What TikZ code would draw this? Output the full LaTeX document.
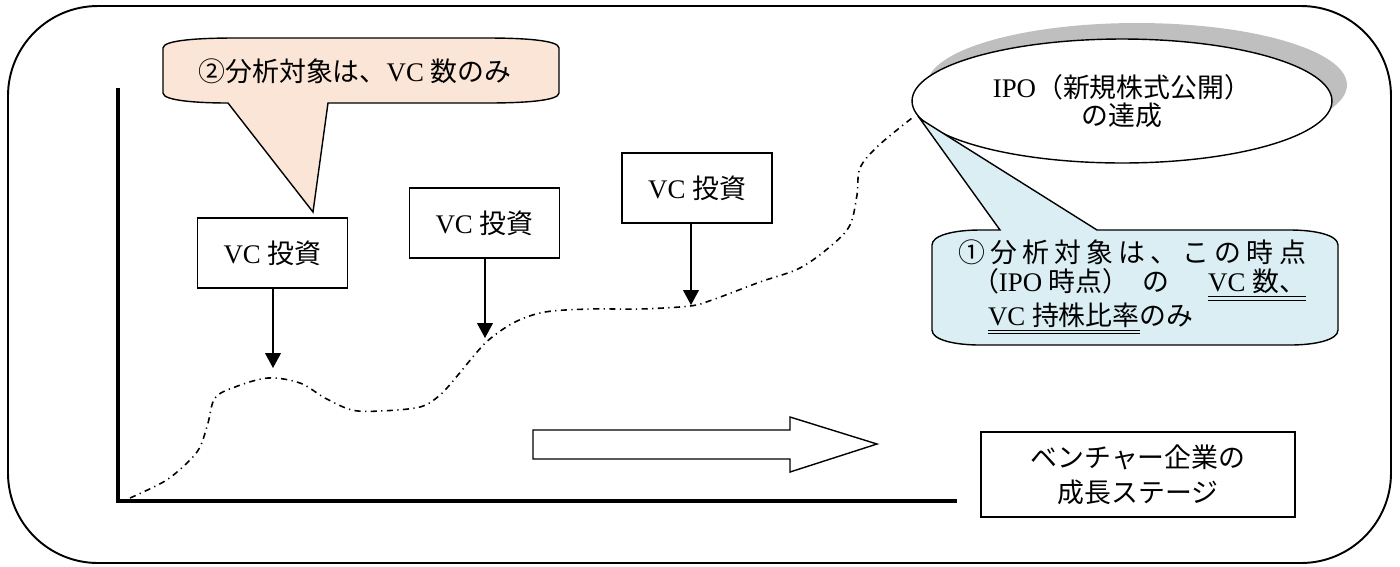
\documentclass[tikz,border=0pt]{standalone}
\usepackage{fontspec}
\setmainfont{Liberation Serif}
\newfontfamily\jp{Noto Sans CJK JP}
\usetikzlibrary{shapes.geometric,shadows,arrows.meta}
\newcommand{\dul}[1]{\underline{\underline{#1}}}
\definecolor{peach}{HTML}{FBE5D6}
\definecolor{paleblue}{HTML}{DAEEF3}
\tikzset{
  vcbox/.style={draw,line width=0.8pt,minimum width=3cm,minimum height=1.4cm},
  vcarrow/.style={line width=0.8pt,-{Triangle[length=8.5pt,width=9pt]}},
  growth/.style={line width=0.9pt,dash pattern=on 3.5pt off 2.5pt on 0.7pt off 2.5pt},
  callout/.style={draw,line width=0.8pt}
}

\begin{document}
\begin{tikzpicture}[x=0.02cm,y=-0.02cm,font=\fontsize{15.3}{19.8}\selectfont]
    \useasboundingbox (0,0) rectangle (1400,566);
    \draw[line width=1.1pt,rounded corners=1.8cm] (8,6) rectangle (1391,563);
    \draw[line width=1.8pt] (118,88) -- (118,501) -- (957,501);
    % growth path
    \draw[growth] plot[smooth,tension=0.55] coordinates {(130,498) (165,481) (188,462) (200,447) (208,423) (215,398) (235,387) (268,378) (300,383) (325,398) (352,410) (380,411) (420,407) (440,395) (458,375) (477,352) (491,338) (515,322) (545,312) (590,309) (640,309) (690,306) (712,300) (760,282) (800,268) (832,245) (850,225) (857,195) (860,168) (878,146) (912,118)};
    \coordinate (p1) at (273,368);
    \coordinate (p2) at (485,338);
    \coordinate (p3) at (691,305);
    \node[vcbox] (vc1) at (272.5,253) {VC {\jp 投資}};
    \node[vcbox] (vc2) at (484.5,223) {VC {\jp 投資}};
    \node[vcbox] (vc3) at (697,188) {VC {\jp 投資}};
    \draw[vcarrow] (vc1.south -| p1) -- (p1);
    \draw[vcarrow] (vc2.south -| p2) -- (p2);
    \draw[vcarrow] (vc3.south -| p3) -- (p3);
    \draw[line width=0.8pt] (533,430) -- (790,430) -- (790,417) -- (877,444) -- (790,472) -- (790,459) -- (533,459) -- cycle;
    \node[draw,line width=0.8pt,minimum width=6.28cm,minimum height=1.7cm,align=center] (stage) at (1138,474.5) {{\jp ベンチャー企業の}\\{\jp 成長ステージ}};
    % callouts
    \draw[callout,fill=peach] (163,48) .. controls (163,40) and (200,38) .. (235,38) -- (487,38) .. controls (522,38) and (559,40) .. (559,48) -- (559,93) .. controls (559,101) and (522,103) .. (487,103) -- (328,103) -- (313,212) -- (228,103) .. controls (200,103) and (163,101) .. (163,93) -- cycle;
    \node (note2) at (355,71) {{\jp ②分析対象は、}VC {\jp 数のみ}};
    \node[ellipse,draw,line width=0.8pt,fill=white,minimum width=8.4cm,minimum height=2.48cm,align=center,font=\fontsize{15.3}{16}\selectfont,drop shadow={shadow xshift=0.3cm,shadow yshift=0.32cm,fill=black!25,opacity=1}] (ipo) at (1122,101) {IPO{\jp （新規株式公開）}\\{\jp の達成}};
    \draw[callout,fill=paleblue] (932,245) .. controls (932,235) and (955,230) .. (980,230) -- (1000,230) -- (ipo.185) -- (1097,230) -- (1290,230) .. controls (1315,230) and (1338,235) .. (1338,245) -- (1338,330) .. controls (1338,340) and (1315,345) .. (1290,345) -- (980,345) .. controls (955,345) and (932,340) .. (932,330) -- cycle;
    \node[align=left,font=\fontsize{15.3}{17}\selectfont] (note1) at (1132,287) {\makebox[6.96cm][s]{\jp ①\hfill 分\hfill 析\hfill 対\hfill 象\hfill は\hfill 、\hfill こ\hfill の\hfill 時\hfill 点}\\\makebox[6.96cm][s]{\hspace*{0.28cm}{\jp （}IPO {\jp 時点）}\hspace{0.26cm}{\jp の}\hfill\dul{VC {\jp 数、}}}\\\hspace*{0.6cm}\dul{VC {\jp 持株比率}}{\jp のみ}};
\end{tikzpicture}
\end{document}
